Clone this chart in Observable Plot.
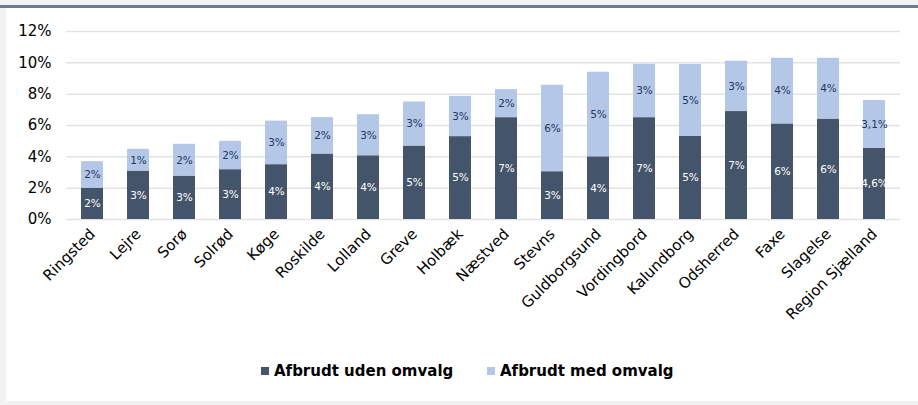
<!DOCTYPE html>
<html>
<head>
<meta charset="utf-8">
<script src="https://cdn.jsdelivr.net/npm/d3@7"></script>
<script src="https://cdn.jsdelivr.net/npm/@observablehq/plot@0.6"></script>
<style>
  html, body { margin: 0; padding: 0; }
  body { width: 918px; height: 405px; background: #f2f2f2; position: relative; overflow: hidden; font-family: "DejaVu Sans", sans-serif; }
  #topbar { position: absolute; left: 0; top: 5px; width: 918px; height: 3px; background: #687c92; }
  #panel { position: absolute; left: 6px; top: 8px; width: 912px; height: 393px; background: #fff; }
  #chart { position: absolute; left: 0; top: 0; }
  #legend { position: absolute; left: 0; top: 360px; width: 918px; height: 22px; }
  .lg { position: absolute; top: 0; display: flex; align-items: center; font-weight: bold; font-size: 15px; color: #000; height: 22px; }
  .sw { width: 8px; height: 8px; margin-right: 5px; }
</style>
</head>
<body>
<div id="topbar"></div>
<div id="panel"></div>
<div id="chart"></div>
<div id="legend">
  <div class="lg" style="left:261px"><div class="sw" style="background:#44546a"></div>Afbrudt uden omvalg</div>
  <div class="lg" style="left:487px"><div class="sw" style="background:#b4c7e7"></div>Afbrudt med omvalg</div>
</div>
<script>
const categories = ["Ringsted","Lejre","Sorø","Solrød","Køge","Roskilde","Lolland","Greve","Holbæk","Næstved","Stevns","Guldborgsund","Vordingbord","Kalundborg","Odsherred","Faxe","Slagelse","Region Sjælland"];
// Afbrudt uden omvalg (%)
const udenOmvalg = [2.0, 3.09, 2.77, 3.18, 3.5, 4.18, 4.07, 4.69, 5.29, 6.5, 3.05, 4.0, 6.5, 5.3, 6.89, 6.1, 6.41, 4.55];
// Afbrudt med omvalg (%)
const medOmvalg = [1.69, 1.39, 2.03, 1.81, 2.78, 2.32, 2.62, 2.81, 2.57, 1.79, 5.52, 5.4, 3.41, 4.6, 3.21, 4.19, 3.88, 3.05];
const udenLabels = ["2%","3%","3%","3%","4%","4%","4%","5%","5%","7%","3%","4%","7%","5%","7%","6%","6%","4,6%"];
const medLabels = ["2%","1%","2%","2%","3%","2%","3%","3%","3%","2%","6%","5%","3%","5%","3%","4%","4%","3,1%"];
const yTicks = [0, 2, 4, 6, 8, 10, 12];

const rows = [];
categories.forEach((c, i) => {
  rows.push({cat: c, series: "uden", y1: 0, y2: udenOmvalg[i], label: udenLabels[i]});
  rows.push({cat: c, series: "med", y1: udenOmvalg[i], y2: udenOmvalg[i] + medOmvalg[i], label: medLabels[i]});
});

const chart = Plot.plot({
  width: 918,
  height: 345,
  marginTop: 31,
  marginBottom: 126,
  marginLeft: 66,
  marginRight: 18,
  style: {fontFamily: "DejaVu Sans, sans-serif", background: "transparent", color: "#000"},
  x: {domain: categories, paddingInner: 0.53, paddingOuter: 0.265, label: null},
  y: {domain: [0, 12], label: null},
  color: {domain: ["uden", "med"], range: ["#44546a", "#b4c7e7"]},
  marks: [
    Plot.gridY(yTicks, {stroke: "#e3e3e3", strokeOpacity: 1, strokeWidth: 1.5}),
    Plot.barY(rows, {x: "cat", y1: "y1", y2: "y2", fill: "series"}),
    Plot.text(rows, {x: "cat", y: d => (d.y1 + d.y2) / 2, text: "label",
      fill: d => d.series === "uden" ? "#ffffff" : "#1f3864", fontSize: 10.5}),
    Plot.axisY(yTicks, {tickFormat: d => d + "%", tickSize: 0, tickPadding: 15, fontSize: 15, label: null}),
    Plot.axisX({tickRotate: -45, tickSize: 0, tickPadding: 12, fontSize: 15, label: null})
  ]
});
document.getElementById("chart").appendChild(chart);
</script>
</body>
</html>
